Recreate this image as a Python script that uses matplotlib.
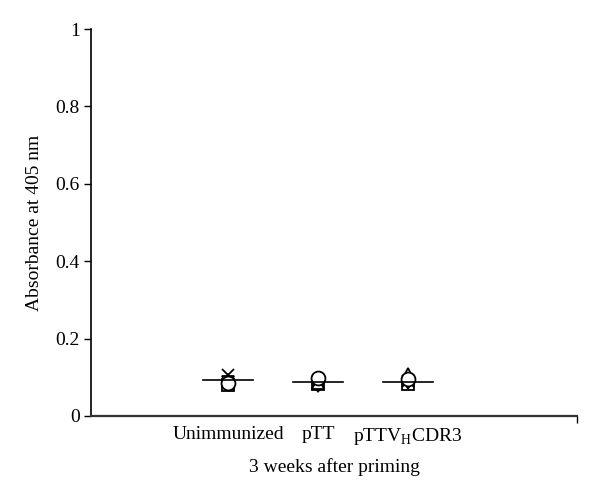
import matplotlib
matplotlib.use("Agg")
import matplotlib.pyplot as plt
import numpy as np

plt.rcParams['font.family'] = ['Liberation Serif', 'DejaVu Serif']
plt.rcParams['mathtext.fontset'] = 'custom'
plt.rcParams['mathtext.rm'] = 'Liberation Serif'

categories = ["Unimmunized", "pTT", "pTTV$_{\\mathrm{H}}$CDR3"]
means = [0.094, 0.088, 0.088]
circles = [0.085, 0.098, 0.095]
squares = [0.080, 0.082, 0.082]
triangles_up = [0.092, 0.085, 0.108]
triangles_down = [0.088, 0.078, 0.085]
crosses = [0.106, 0.090, 0.090]

fig = plt.figure(figsize=(6, 4.98), dpi=100)
ax = fig.add_axes([0.1517, 0.1647, 0.81, 0.777])

x = np.arange(1, len(categories) + 1)
ms = 9
ax.plot(x, squares, 's', ms=ms, mfc='white', mec='black', mew=1.3, ls='none', zorder=3)
ax.plot(x, triangles_down, 'v', ms=ms, mfc='white', mec='black', mew=1.3, ls='none', zorder=3)
ax.plot(x, triangles_up, '^', ms=ms, mfc='white', mec='black', mew=1.3, ls='none', zorder=3)
ax.plot(x, crosses, 'x', ms=ms, mec='black', mew=1.3, ls='none', zorder=3)
ax.plot(x, circles, 'o', ms=ms + 1, mfc='white', mec='black', mew=1.3, ls='none', zorder=4)
for xi, m in zip(x, means):
    ax.plot([xi - 0.28, xi + 0.28], [m, m], color='black', lw=1.2, zorder=5)

ax.set_xlim(1 - 137 / 90, 1 - 137 / 90 + 5.4)
ax.set_ylim(0, 1)
ax.set_yticks([0, 0.2, 0.4, 0.6, 0.8, 1.0])
ax.set_yticklabels(["0", "0.2", "0.4", "0.6", "0.8", "1"])
ax.set_xticks(x)
ax.set_xticklabels(categories)
ax.tick_params(axis='x', length=0, pad=7, labelsize=14)
ax.tick_params(axis='y', direction='out', length=5, width=1, labelsize=14, pad=3)
ax.set_xticks([ax.get_xlim()[1]], minor=True)
ax.tick_params(axis='x', which='minor', direction='out', length=5, width=1)

for s in ['top', 'right']:
    ax.spines[s].set_visible(False)
ax.spines['left'].set_linewidth(1.2)
ax.spines['bottom'].set_linewidth(1.6)
ax.spines['bottom'].set_color('#333333')

ax.set_ylabel("Absorbance at 405 nm", fontsize=14, labelpad=9)
ax.set_xlabel("3 weeks after priming", fontsize=14, labelpad=8)

fig.savefig("out.png", dpi=100)
